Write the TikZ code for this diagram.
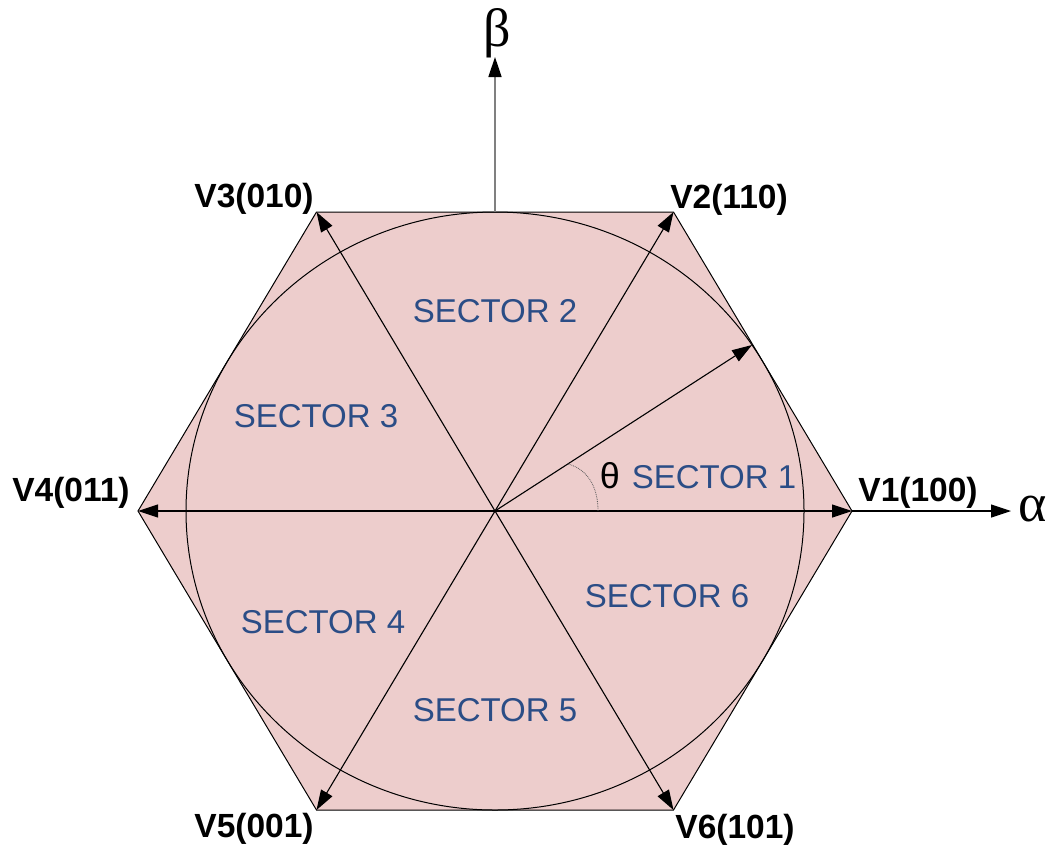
\documentclass[tikz,border=0pt]{standalone}
\usepackage{fontspec}
\setmainfont{Liberation Sans}
\newfontfamily\greekserif{Liberation Serif}
\usetikzlibrary{arrows.meta}
\definecolor{hexfill}{HTML}{EDCDCC}
\definecolor{sectorblue}{HTML}{2B4D86}
\begin{document}
\begin{tikzpicture}[x=1pt,y=-1pt,
  vec/.style={line width=1.1pt,-{Triangle[length=20pt,width=13pt]}},
  axisgray/.style={line width=1.6pt,gray,-{Triangle[length=20pt,width=13pt,color=black]}},
  vlabel/.style={font=\fontsize{33.5}{36}\selectfont\bfseries,inner sep=0pt},
  sector/.style={font=\fontsize{33}{36}\selectfont,text=sectorblue,inner sep=0pt},
  greek/.style={font=\greekserif\fontsize{54}{60}\selectfont,inner sep=0pt}]
\useasboundingbox (0,0) rectangle (1048,847);
\coordinate (C) at (495,511);
\coordinate (V1) at (852,511);
\coordinate (V2) at (673.5,212);
\coordinate (V3) at (316.5,212);
\coordinate (V4) at (138,511);
\coordinate (V5) at (316.5,810);
\coordinate (V6) at (673.5,810);
\coordinate (Btop) at (495,212);
\coordinate (Btip) at (495,57);
\coordinate (Atip) at (1011,511);
\coordinate (Vr) at (752,345);
\coordinate (ArcA) at (598,511);
\coordinate (ArcB) at (568,464);
% hexagon
\filldraw[fill=hexfill,draw=black,line width=1pt] (V1)--(V2)--(V3)--(V4)--(V5)--(V6)--cycle;
% inscribed circle
\draw[line width=1pt] (C) ellipse [x radius=309pt, y radius=299pt];
% vectors
\foreach \v in {V1,V2,V3,V4,V5,V6} \draw[vec] (C) -- (\v);
\draw[vec] (C) -- (Vr);
% axes
\draw[axisgray] (Btop) -- (Btip);
\draw[vec] (V1) -- (Atip);
% theta arc
\draw[gray!70!black,line width=0.8pt,densely dotted] (ArcB) .. controls (590,470) and (598,490) .. (ArcA);
% labels
\node[greek] (beta) at (497,33) {β};
\node[greek] (alpha) at (1033,509) {α};
\node[font=\fontsize{36}{40}\selectfont,inner sep=0pt] (theta) at (610,476) {θ};
\node[vlabel] (L1) at (918,493) {V1(100)};
\node[vlabel] (L2) at (729,200) {V2(110)};
\node[vlabel] (L3) at (254,199) {V3(010)};
\node[vlabel] (L4) at (71,493) {V4(011)};
\node[vlabel] (L5) at (254,829) {V5(001)};
\node[vlabel] (L6) at (735,830) {V6(101)};
\node[sector] (S1) at (714,477) {SECTOR 1};
\node[sector] (S2) at (495,311) {SECTOR 2};
\node[sector] (S3) at (316,416) {SECTOR 3};
\node[sector] (S4) at (323,622) {SECTOR 4};
\node[sector] (S5) at (495,710) {SECTOR 5};
\node[sector] (S6) at (667,596) {SECTOR 6};
\end{tikzpicture}
\end{document}
